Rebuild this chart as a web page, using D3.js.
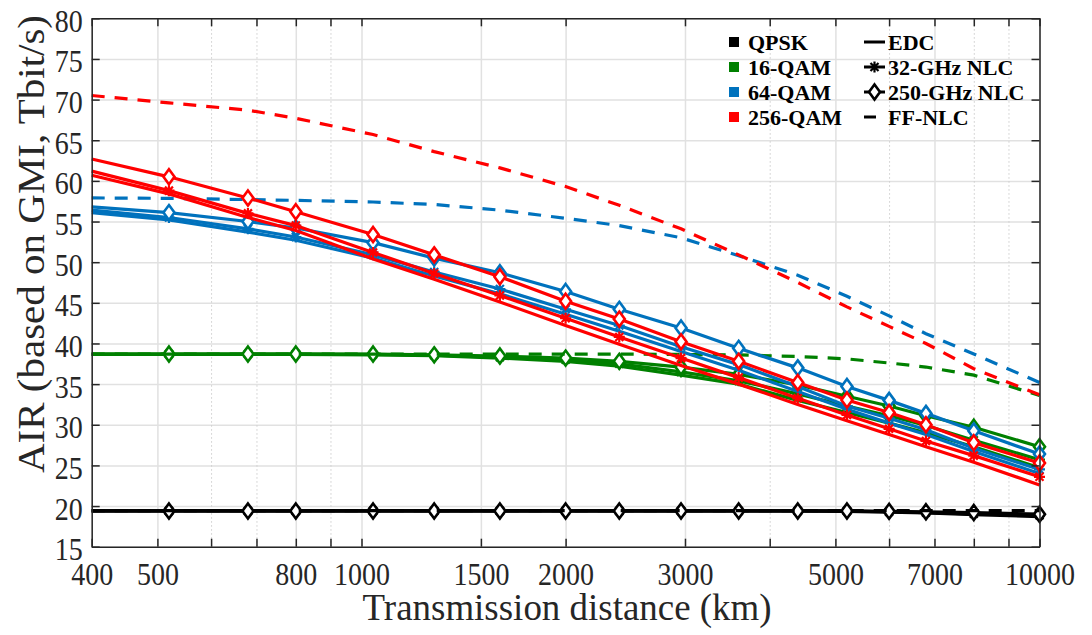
<!DOCTYPE html>
<html>
<head>
<meta charset="utf-8">
<title>AIR vs transmission distance</title>
<script src="https://cdn.jsdelivr.net/npm/d3@7"></script>
<style>
  body { margin: 0; background: #ffffff; }
  .grid line { stroke: #e1e1e1; stroke-width: 1.5; }
  .grid-minor line { stroke: #cccccc; stroke-width: 1; stroke-dasharray: 1.5,2.5; }
  .grid path, .grid-minor path { display: none; }
  .axis path, .axis line { stroke: #262626; stroke-width: 1.5; }
  .axis text { fill: #262626; }
</style>
</head>
<body>
<div id="chart"></div>
<script>
// Data
var distances = [400, 520, 680, 800, 1040, 1280, 1600, 2000, 2400, 2960, 3600, 4400, 5200, 6000, 6800, 8000, 10000];

var qpskEdc = [19.4, 19.4, 19.4, 19.4, 19.4, 19.4, 19.4, 19.4, 19.4, 19.4, 19.4, 19.4, 19.35, 19.25, 19.15, 18.95, 18.7];
var qpsk32  = [19.4, 19.4, 19.4, 19.4, 19.4, 19.4, 19.4, 19.4, 19.4, 19.4, 19.4, 19.4, 19.38, 19.3, 19.2, 19.05, 18.85];
var qpsk250 = [19.4, 19.4, 19.4, 19.4, 19.4, 19.4, 19.4, 19.4, 19.4, 19.4, 19.4, 19.4, 19.4, 19.35, 19.3, 19.2, 19.0];
var qpskFf  = [19.45, 19.45, 19.45, 19.45, 19.45, 19.45, 19.45, 19.45, 19.45, 19.45, 19.45, 19.45, 19.45, 19.45, 19.45, 19.45, 19.45];

var qam16Edc = [38.65, 38.65, 38.65, 38.65, 38.6, 38.5, 38.2, 37.8, 37.2, 36.1, 35.0, 33.0, 31.5, 30.2, 29.0, 27.3, 24.7];
var qam16_32  = [38.7, 38.7, 38.7, 38.7, 38.65, 38.55, 38.3, 38.0, 37.5, 36.5, 35.4, 33.8, 32.3, 31.1, 29.9, 28.1, 25.7];
var qam16_250 = [38.7, 38.7, 38.7, 38.7, 38.7, 38.6, 38.45, 38.2, 37.8, 37.1, 36.2, 34.9, 33.5, 32.3, 31.1, 29.7, 27.3];
var qam16Ff  = [38.7, 38.7, 38.7, 38.7, 38.7, 38.7, 38.7, 38.7, 38.7, 38.65, 38.6, 38.4, 38.1, 37.6, 37.1, 36.1, 33.6];

var qam64Edc = [56.1, 55.2, 53.7, 52.7, 50.5, 48.3, 46.1, 43.6, 41.5, 39.0, 36.7, 34.1, 31.9, 30.2, 28.8, 26.7, 24.0];
var qam64_32  = [56.4, 55.5, 54.1, 53.1, 50.9, 48.8, 46.7, 44.2, 42.2, 39.6, 37.4, 34.7, 32.3, 30.8, 29.4, 27.1, 24.5];
var qam64_250 = [56.8, 56.1, 55.0, 54.2, 52.4, 50.5, 48.7, 46.4, 44.2, 41.9, 39.4, 37.0, 34.7, 33.0, 31.4, 29.25, 26.4];
var qam64Ff  = [57.9, 57.85, 57.7, 57.6, 57.4, 57.1, 56.4, 55.4, 54.5, 53.0, 50.8, 48.4, 45.8, 43.4, 41.2, 38.7, 35.2];

var qam256Edc = [60.7, 58.4, 55.5, 53.9, 50.4, 47.9, 45.1, 42.2, 39.9, 37.3, 35.0, 32.5, 30.5, 28.8, 27.3, 25.4, 22.6];
var qam256_32  = [61.2, 58.8, 56.0, 54.5, 51.2, 48.6, 45.9, 43.1, 40.8, 38.2, 35.8, 33.25, 31.2, 29.5, 28.0, 26.2, 23.6];
var qam256_250 = [62.7, 60.5, 57.9, 56.2, 53.4, 50.9, 48.2, 45.2, 43.0, 40.2, 37.8, 35.2, 33.05, 31.5, 30.0, 27.8, 25.3];
var qam256Ff  = [70.5, 69.6, 68.7, 67.7, 65.7, 63.6, 61.6, 59.3, 57.0, 54.1, 50.9, 47.5, 44.5, 42.1, 40.0, 36.9, 33.7];

var formats = ["QPSK", "16-QAM", "64-QAM", "256-QAM"];
var formatColors = ["#000000", "#008000", "#0072BD", "#FF0000"];
var schemes = ["EDC", "32-GHz NLC", "250-GHz NLC", "FF-NLC"];

var xTickLabels = [400, 500, 800, 1000, 1500, 2000, 3000, 5000, 7000, 10000];
var xMinorTicks = [600, 700, 900, 4000, 6000, 8000, 9000];
var yTicks = [15, 20, 25, 30, 35, 40, 45, 50, 55, 60, 65, 70, 75, 80];

// one row per curve: format index, scheme index, values
var series = [
  [0, 0, qpskEdc], [0, 1, qpsk32], [0, 2, qpsk250], [0, 3, qpskFf],
  [1, 0, qam16Edc], [1, 1, qam16_32], [1, 2, qam16_250], [1, 3, qam16Ff],
  [2, 0, qam64Edc], [2, 1, qam64_32], [2, 2, qam64_250], [2, 3, qam64Ff],
  [3, 0, qam256Edc], [3, 1, qam256_32], [3, 2, qam256_250], [3, 3, qam256Ff]
];

var svgWidth = 1092;
var svgHeight = 635;
var margin = {top: 18.3, right: 52.5, bottom: 88.3, left: 91.7};
var width = svgWidth - margin.left - margin.right;
var height = svgHeight - margin.top - margin.bottom;
var serif = "'Liberation Serif', 'Times New Roman', serif";
var digitWidth = 14;

var svg = d3.select("#chart")
  .append("svg")
  .attr("width", svgWidth)
  .attr("height", svgHeight)
  .style("display", "block");

var chartGroup = svg.append("g")
  .attr("transform", `translate(${margin.left}, ${margin.top})`);

var x = d3.scaleLog().domain([400, 10000]).range([0, width]);
var y = d3.scaleLinear().domain([15, 80]).range([height, 0]);

// grid (no tick texts)
chartGroup.append("g")
  .attr("class", "grid")
  .call(d3.axisLeft(y).tickValues(yTicks).tickSize(-width).tickFormat(""));

chartGroup.append("g")
  .attr("class", "grid")
  .attr("transform", `translate(0,${height})`)
  .call(d3.axisBottom(x).tickValues(xTickLabels).tickSize(-height).tickFormat(""));

chartGroup.append("g")
  .attr("class", "grid-minor")
  .attr("transform", `translate(0,${height})`)
  .call(d3.axisBottom(x).tickValues(xMinorTicks).tickSize(-height).tickFormat(""));

chartGroup.selectAll(".grid text, .grid-minor text").remove();

// curves
var line = d3.line()
  .x((d, i) => x(distances[i]))
  .y(d => y(d));

var diamond = "M0,-7.5L5.5,0L0,7.5L-5.5,0Z";
var asterisk = "M-5.5,0H5.5M0,-5.5V5.5M-4,-4L4,4M-4,4L4,-4";

series.forEach(function(s) {
  var color = formatColors[s[0]];
  var scheme = s[1];
  var values = s[2];

  chartGroup.append("path")
    .datum(values)
    .attr("fill", "none")
    .attr("stroke", color)
    .attr("stroke-width", 3.2)
    .attr("stroke-dasharray", scheme === 3 ? "13,10" : null)
    .attr("d", line);

  // the 400 km start point carries no marker
  if (scheme === 1 || scheme === 2) {
    chartGroup.selectAll(null)
      .data(values.slice(1))
      .enter()
      .append("path")
      .attr("transform", (d, i) => `translate(${x(distances[i + 1])},${y(d)})`)
      .attr("d", scheme === 2 ? diamond : asterisk)
      .attr("fill", scheme === 2 ? "#ffffff" : "none")
      .attr("stroke", color)
      .attr("stroke-width", scheme === 2 ? 2.6 : 2.2);
  }
});

// axes (box with inward ticks)
var xAll = xTickLabels.concat(xMinorTicks);

var bottomAxis = chartGroup.append("g")
  .attr("class", "axis")
  .attr("transform", `translate(0,${height})`)
  .call(d3.axisBottom(x).tickValues(xAll).tickSizeInner(-8).tickSizeOuter(0).tickPadding(16.5)
    .tickFormat(d => xTickLabels.indexOf(d) >= 0 ? String(d) : ""));

chartGroup.append("g")
  .attr("class", "axis")
  .call(d3.axisTop(x).tickValues(xAll).tickSizeInner(-8).tickSizeOuter(0).tickFormat(""))
  .selectAll("text").remove();

var leftAxis = chartGroup.append("g")
  .attr("class", "axis")
  .call(d3.axisLeft(y).tickValues(yTicks).tickSizeInner(-8).tickSizeOuter(0).tickPadding(9));

chartGroup.append("g")
  .attr("class", "axis")
  .attr("transform", `translate(${width},0)`)
  .call(d3.axisRight(y).tickValues(yTicks).tickSizeInner(-8).tickSizeOuter(0).tickFormat(""))
  .selectAll("text").remove();

// tick labels: tall serif digits, a little narrower than the font's own width
[bottomAxis, leftAxis].forEach(function(a) {
  a.attr("font-family", serif).attr("font-size", 31);
  a.selectAll("text")
    .filter(function() { return this.textContent.length === 0; })
    .remove();
  a.selectAll("text")
    .attr("fill", "#262626")
    .attr("textLength", function() { return this.textContent.length * digitWidth; })
    .attr("lengthAdjust", "spacingAndGlyphs");
});
leftAxis.selectAll("text").attr("dy", "0.42em");

// axis titles
chartGroup.append("text")
  .attr("x", width / 2 + 1.5)
  .attr("y", height + 73.5)
  .attr("text-anchor", "middle")
  .attr("font-family", serif)
  .attr("font-size", 37)
  .attr("fill", "#262626")
  .attr("textLength", 409)
  .attr("lengthAdjust", "spacingAndGlyphs")
  .text("Transmission distance (km)");

svg.append("text")
  .attr("transform", "translate(44, 244) rotate(-90)")
  .attr("text-anchor", "middle")
  .attr("font-family", serif)
  .attr("font-size", 38)
  .attr("fill", "#262626")
  .attr("textLength", 458)
  .attr("lengthAdjust", "spacingAndGlyphs")
  .text("AIR (based on GMI, Tbit/s)");

// legend
var legend = svg.append("g")
  .attr("font-family", serif)
  .attr("font-size", 22)
  .attr("font-weight", "bold");

var rowBase = 49.5, rowStep = 25;

formats.forEach(function(f, i) {
  var by = rowBase + i * rowStep;
  legend.append("rect")
    .attr("x", 729).attr("y", by - 12.5)
    .attr("width", 10).attr("height", 10)
    .attr("fill", formatColors[i]);
  legend.append("text")
    .attr("x", 748).attr("y", by)
    .text(f);
});

schemes.forEach(function(s, i) {
  var by = rowBase + i * rowStep;
  var cy = by - 7.5;
  legend.append("line")
    .attr("x1", 864).attr("x2", i === 3 ? 876 : 885)
    .attr("y1", cy).attr("y2", cy)
    .attr("stroke", "#000").attr("stroke-width", 3);
  if (i === 1 || i === 2) {
    legend.append("path")
      .attr("transform", `translate(874.5,${cy})`)
      .attr("d", i === 2 ? diamond : asterisk)
      .attr("fill", i === 2 ? "#ffffff" : "none")
      .attr("stroke", "#000")
      .attr("stroke-width", i === 2 ? 2.6 : 2.2);
  }
  legend.append("text")
    .attr("x", 888).attr("y", by)
    .text(s);
});
</script>
</body>
</html>
